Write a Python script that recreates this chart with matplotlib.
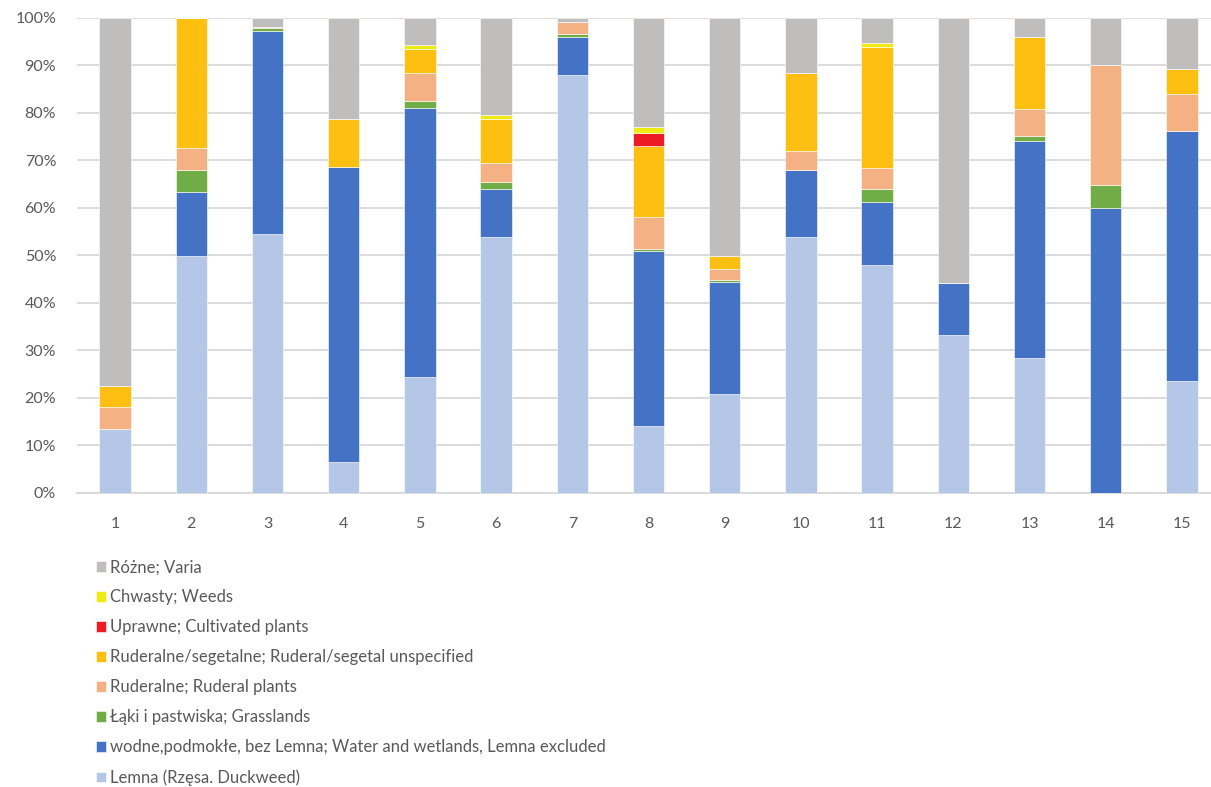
import numpy as np
import matplotlib
matplotlib.use("Agg")
from matplotlib import pyplot as plt
from matplotlib.ticker import PercentFormatter

plt.rcParams["font.family"] = ["Lato", "DejaVu Sans"]

samples = [str(i) for i in range(1, 16)]

# shares in percent (bottom to top of the stack)
lemna = [13.5, 49.9, 54.5, 6.5, 24.4, 53.8, 88.1, 14.0, 20.9, 53.9, 48.1, 33.2, 28.4, 0.0, 23.5]
water = [0.0, 13.5, 42.8, 62.2, 56.7, 10.1, 8.0, 36.9, 23.5, 14.2, 13.2, 11.1, 45.8, 59.9, 52.7]
grass = [0.0, 4.6, 0.5, 0.0, 1.5, 1.6, 0.6, 0.5, 0.4, 0.0, 2.6, 0.0, 0.9, 5.0, 0.0]
ruderal = [4.5, 4.7, 0.2, 0.0, 5.8, 3.9, 2.5, 6.6, 2.3, 3.8, 4.5, 0.0, 5.7, 25.1, 7.9]
rud_seg = [4.6, 27.3, 0.0, 10.0, 5.1, 9.3, 0.0, 15.1, 2.8, 16.5, 25.4, 0.0, 15.3, 0.0, 5.2]
cultivated = [0.0, 0.0, 0.0, 0.0, 0.0, 0.0, 0.0, 2.7, 0.0, 0.0, 0.0, 0.0, 0.0, 0.0, 0.0]
weeds = [0.0, 0.0, 0.0, 0.0, 0.9, 0.9, 0.0, 1.2, 0.0, 0.0, 0.9, 0.0, 0.0, 0.0, 0.0]
varia = [77.4, 0.0, 2.0, 21.3, 5.6, 20.4, 0.8, 23.0, 50.1, 11.6, 5.3, 55.7, 3.9, 10.0, 10.7]

series = [
    ("Lemna (Rzęsa. Duckweed)", lemna, "#B4C7E7"),
    ("wodne,podmokłe, bez Lemna; Water and wetlands, Lemna excluded", water, "#4472C4"),
    ("Łąki i pastwiska; Grasslands", grass, "#70AD47"),
    ("Ruderalne; Ruderal plants", ruderal, "#F4B183"),
    ("Ruderalne/segetalne; Ruderal/segetal unspecified", rud_seg, "#FDBF12"),
    ("Uprawne; Cultivated plants", cultivated, "#ED1C24"),
    ("Chwasty; Weeds", weeds, "#F0EA14"),
    ("Różne; Varia", varia, "#BFBEBD"),
]

fig = plt.figure(figsize=(12.11, 7.87), dpi=100)
ax = fig.add_axes([77 / 1211, 1 - 493 / 787, 1 - 77 / 1211, 475 / 787])

x = np.arange(1, len(samples) + 1)
bottom = np.zeros(len(samples))
handles = []
for label, values, color in series:
    vals = np.array(values)
    bars = ax.bar(x, vals, width=0.41, bottom=bottom, color=color,
                  edgecolor="white", linewidth=0.4, label=label, zorder=3)
    handles.append(bars)
    bottom += vals

ax.set_ylim(0, 100)
ax.set_xlim(0.5, 0.5 + (1211 - 77) / 76.2)
ax.set_yticks(np.arange(0, 101, 10))
ax.yaxis.set_major_formatter(PercentFormatter(decimals=0))
ax.set_xticks(x)
ax.set_xticklabels(samples)
ax.grid(axis="y", color="#D9D9D9", linewidth=1.3, zorder=0)
for side in ["top", "right", "left"]:
    ax.spines[side].set_visible(False)
ax.spines["bottom"].set_color("#D9D9D9")
ax.spines["bottom"].set_linewidth(1.3)
ax.tick_params(length=0, colors="#595959", labelsize=11.5)
ax.tick_params(axis="x", pad=17)
ax.tick_params(axis="y", pad=15)

leg = fig.legend(handles[::-1], [s[0] for s in series][::-1],
                 loc="upper left", bbox_to_anchor=(88 / 1211, 1 - 551 / 787),
                 frameon=False, fontsize=12, handlelength=0.6, handleheight=0.6,
                 handletextpad=0.25, labelspacing=0.84, borderpad=0)
for t in leg.get_texts():
    t.set_color("#595959")

fig.savefig("out.png", dpi=100)
